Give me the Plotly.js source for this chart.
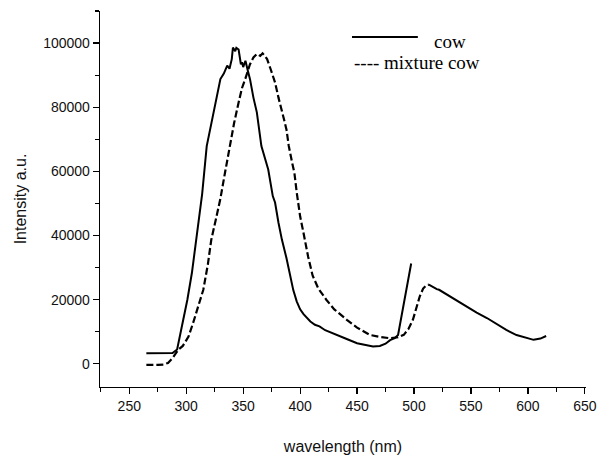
<!DOCTYPE html>
<html>
<head>
<meta charset="utf-8">
<script src="https://cdn.plot.ly/plotly-3.0.1.min.js"></script>
<style>html,body{margin:0;padding:0;background:#fff;}#chart{width:600px;height:455px;}</style>
</head>
<body>
<div id="chart"></div>
<script>
// cow (solid)
var cowWavelength = [265, 270, 280, 288, 292, 297, 301, 305, 310, 314, 318, 321, 324, 327, 330, 333, 336, 338, 340, 341, 343, 344, 346, 348, 349, 350, 352, 354, 356, 359, 362, 366, 369, 372, 376, 378, 381, 384, 388, 391, 394, 397, 400, 403, 406, 409, 413, 417, 422, 428, 435, 442, 450, 457, 464, 470, 475, 479, 483, 486, 489, 492, 495, 497.5];
var cowIntensity  = [3300, 3300, 3300, 3400, 4500, 12800, 20000, 28400, 42000, 53000, 67900, 73000, 78300, 83000, 88800, 90500, 93000, 92000, 95000, 98600, 97500, 98500, 98000, 93400, 94000, 92500, 94500, 91500, 88750, 83000, 78400, 67900, 64000, 60600, 52300, 50300, 44000, 38750, 33000, 28300, 23000, 19500, 17000, 15500, 14500, 13200, 12200, 11700, 10500, 9600, 8400, 7600, 6450, 5900, 5400, 5600, 6300, 7400, 8000, 9000, 15000, 21000, 27000, 31300];

// mixture cow (dashed part)
var mixWavelength = [265, 270, 275, 280, 284, 288, 293, 297, 302, 306, 310, 315, 319, 322, 326, 330, 334, 338, 342, 346, 349, 352, 356, 359, 362, 365, 367, 369, 371, 374, 378, 381, 384, 386, 388, 390, 393, 395, 397, 400, 403, 407, 411, 416, 423, 430, 441, 450, 461, 470, 479, 486, 491, 495, 499, 502, 505, 508, 511, 513];
var mixIntensity  = [-300, -400, -300, -200, 300, 1800, 4400, 5600, 8500, 12700, 17500, 23100, 31000, 38700, 45000, 51500, 59500, 67900, 75000, 81500, 86000, 89000, 93400, 95500, 96600, 96000, 96800, 96000, 95000, 92000, 87700, 83000, 78300, 76000, 73100, 68000, 62700, 59500, 53500, 46000, 40800, 33500, 27500, 23500, 20000, 17000, 13750, 11300, 9060, 8400, 8000, 8300, 9060, 10800, 13750, 17500, 21000, 23500, 24600, 24700];

// mixture cow (continuous tail)
var mixTailWavelength = [513, 515, 517, 520, 522, 527, 532, 538, 546, 555, 564, 573, 581, 590, 599, 605, 611, 616];
var mixTailIntensity  = [24700, 24300, 23800, 23300, 23100, 22000, 21000, 19800, 17900, 16000, 14300, 12300, 10600, 9000, 8000, 7500, 7900, 8700];

var xTickVals = [250, 300, 350, 400, 450, 500, 550, 600, 650];
var yTickVals = [0, 20000, 40000, 60000, 80000, 100000];

var traces = [
  {x: cowWavelength, y: cowIntensity, type: 'scatter', mode: 'lines', name: 'cow',
   line: {color: '#000', width: 2}, showlegend: false},
  {x: mixWavelength, y: mixIntensity, type: 'scatter', mode: 'lines', name: 'mixture cow',
   line: {color: '#000', width: 2.2, dash: '7px,3px'}, showlegend: false},
  {x: mixTailWavelength, y: mixTailIntensity, type: 'scatter', mode: 'lines', name: 'mixture cow',
   line: {color: '#000', width: 2}, showlegend: false}
];

var axisCommon = {
  showgrid: false, zeroline: false, showline: true, linecolor: '#000', linewidth: 1.3,
  ticks: 'outside', ticklen: 6, tickwidth: 1.2, tickcolor: '#000',
  tickfont: {family: 'Liberation Sans, Arial, sans-serif', size: 14, color: '#111'},
  mirror: false
};

var layout = {
  width: 600, height: 455,
  margin: {l: 100, r: 14, t: 11, b: 68},
  paper_bgcolor: '#fff', plot_bgcolor: '#fff',
  xaxis: Object.assign({}, axisCommon, {
    range: [224.3, 651], tickvals: xTickVals, ticktext: xTickVals.map(String),
    minor: {dtick: 25, tick0: 225, ticks: 'outside', ticklen: 4, tickwidth: 1.2, tickcolor: '#000', showgrid: false},
    title: {text: 'wavelength (nm)', standoff: 28, font: {family: 'Liberation Sans, Arial, sans-serif', size: 16, color: '#111'}}
  }),
  yaxis: Object.assign({}, axisCommon, {
    range: [-7200, 110000], tickvals: yTickVals, ticktext: yTickVals.map(String),
    minor: {dtick: 10000, tick0: 10000, ticks: 'outside', ticklen: 4, tickwidth: 1.2, tickcolor: '#000', showgrid: false},
    title: {text: 'Intensity a.u.', standoff: 12, font: {family: 'Liberation Sans, Arial, sans-serif', size: 16, color: '#111'}}
  }),
  shapes: [
    {type: 'line', xref: 'paper', yref: 'paper', x0: 0.5185, x1: 0.654, y0: 0.931, y1: 0.931,
     line: {color: '#000', width: 2}}
  ],
  annotations: [
    {xref: 'paper', yref: 'paper', x: 0.683, y: 0.9176, xanchor: 'left', yanchor: 'middle',
     text: 'cow', showarrow: false, font: {family: 'Liberation Serif, Times New Roman, serif', size: 19, color: '#000'}},
    {xref: 'paper', yref: 'paper', x: 0.5185, y: 0.862, xanchor: 'left', yanchor: 'middle',
     text: '---- mixture cow', showarrow: false, font: {family: 'Liberation Serif, Times New Roman, serif', size: 19, color: '#000'}}
  ]
};

Plotly.newPlot('chart', traces, layout, {staticPlot: true, displayModeBar: false});
</script>
</body>
</html>
